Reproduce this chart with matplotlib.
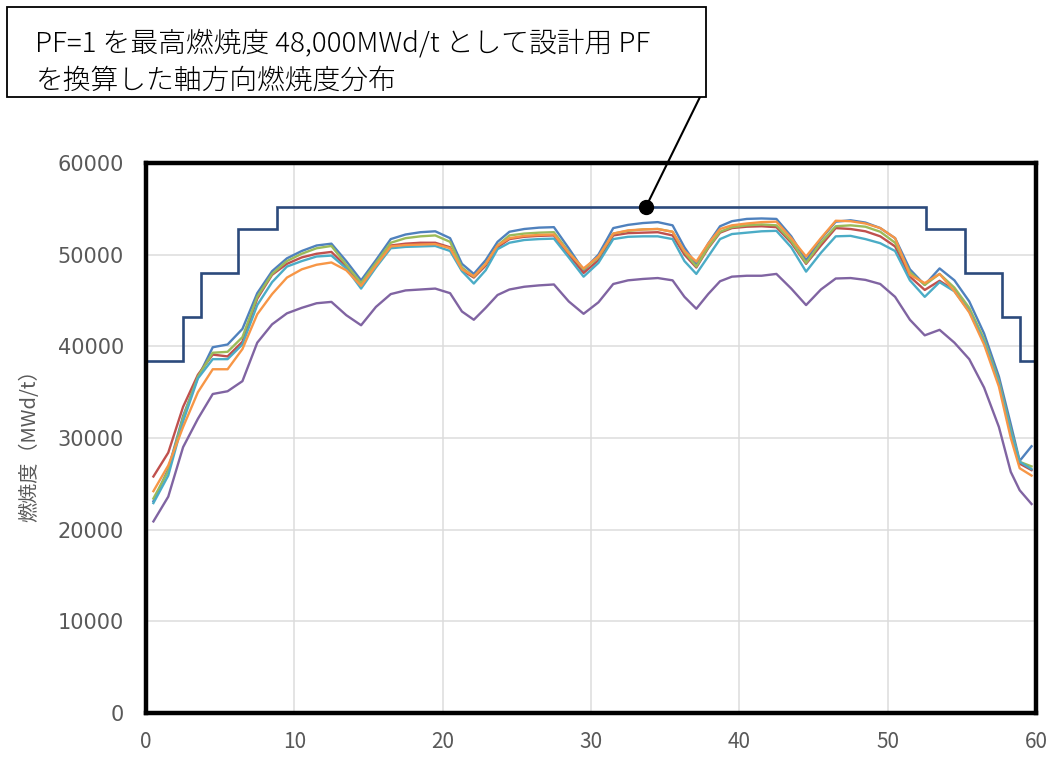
import matplotlib.pyplot as plt
from matplotlib.patches import Rectangle

plt.rcParams['font.family'] = ['Noto Sans CJK JP', 'DejaVu Sans']

# axial position of each read-off point
height = [0.5, 1.5, 2.5, 3.5, 4.5, 5.5, 6.5, 7.5, 8.5, 9.5,
          10.5, 11.5, 12.5, 13.5, 14.5, 15.5, 16.5, 17.5, 18.5, 19.5,
          20.5, 21.3, 22.1, 22.9, 23.7,
          24.5, 25.5, 26.5, 27.5, 28.5, 29.5, 30.5, 31.5, 32.5, 33.5, 34.5, 35.5,
          36.3, 37.1, 37.9, 38.7,
          39.5, 40.5, 41.5, 42.5, 43.5, 44.5, 45.5, 46.5, 47.5, 48.5,
          49.5, 50.5, 51.5, 52.5, 53.5, 54.5, 55.5, 56.5, 57.5,
          58.3, 58.9, 59.7]

blue = [23100, 26600, 32400, 36600, 39900, 40200, 41900, 45800, 48200, 49600,
        50400, 51000, 51200, 49300, 47200, 49400, 51700, 52200, 52450, 52550,
        51800, 49000, 47900, 49400, 51400,
        52500, 52800, 52950, 53000, 50700, 48300, 50000, 52900, 53250, 53450, 53550, 53200,
        50800, 48900, 51200, 53100,
        53650, 53900, 53950, 53900, 52000, 49400, 51700, 53600, 53750, 53500,
        52900, 51800, 48400, 46700, 48500, 47200, 44900, 41400, 36700,
        31500, 27500, 29100]

red = [25800, 28400, 33400, 36900, 39100, 38900, 40500, 45200, 47800, 49000,
       49700, 50100, 50300, 48700, 46700, 48900, 51000, 51200, 51300, 51300,
       50800, 48300, 47500, 48800, 50800,
       51700, 51950, 52050, 52100, 50000, 48000, 49400, 52100, 52350, 52400, 52450, 52100,
       50000, 48600, 50700, 52400,
       52900, 53050, 53100, 53000, 51300, 49000, 51000, 52900, 52800, 52550,
       52000, 50900, 47600, 46150, 47150, 46100, 43900, 40600, 36100,
       30600, 27200, 26500]

green = [23400, 26400, 32200, 36700, 39300, 39400, 41000, 45400, 47900, 49300,
         50100, 50700, 50950, 48900, 46900, 49100, 51300, 51800, 52000, 52100,
         51400, 48600, 47600, 49000, 51000,
         52100, 52300, 52400, 52450, 50300, 48400, 49700, 52300, 52600, 52750, 52800, 52500,
         50300, 48700, 50800, 52500,
         53000, 53200, 53300, 53200, 51500, 49100, 51300, 53100, 53200, 53050,
         52500, 51300, 48100, 46700, 47900, 46400, 44200, 40800, 36200,
         30900, 27400, 26900]

purple = [20900, 23600, 29000, 32100, 34800, 35100, 36200, 40400, 42400, 43600,
          44200, 44700, 44850, 43400, 42300, 44300, 45700, 46100, 46200, 46300,
          45800, 43800, 42900, 44200, 45600,
          46200, 46500, 46650, 46750, 44900, 43550, 44800, 46800, 47200, 47350, 47450, 47200,
          45400, 44100, 45700, 47100,
          47600, 47700, 47700, 47900, 46300, 44500, 46200, 47400, 47450, 47250,
          46800, 45400, 42900, 41200, 41800, 40400, 38600, 35500, 31200,
          26300, 24300, 22800]

cyan = [22900, 25900, 31800, 36500, 38600, 38600, 40200, 44500, 47000, 48700,
        49300, 49800, 49900, 48500, 46300, 48600, 50700, 50850, 50900, 50950,
        50400, 48200, 46850, 48300, 50600,
        51300, 51600, 51700, 51750, 49700, 47600, 49100, 51700, 51950, 52000, 52000, 51700,
        49300, 47900, 49800, 51700,
        52250, 52400, 52550, 52600, 50800, 48150, 50200, 52000, 52050, 51700,
        51250, 50400, 47200, 45400, 47000, 46000, 43800, 40500, 36000,
        30700, 27400, 26600]

orange = [24200, 27000, 31200, 35000, 37500, 37500, 39700, 43500, 45700, 47500,
          48400, 48900, 49150, 48300, 46600, 48800, 50900, 51050, 51100, 51150,
          50700, 48400, 47650, 49000, 51000,
          51800, 52050, 52150, 52200, 50200, 48500, 49800, 52300, 52650, 52750, 52800, 52500,
          50400, 49250, 51200, 52800,
          53200, 53400, 53550, 53600, 51800, 49800, 51800, 53700, 53650, 53400,
          52900, 51800, 47800, 46900, 47900, 46000, 43700, 40200, 35600,
          30000, 26700, 25900]

# design PF envelope (PF x 48,000 MWd/t)
step_edges = [0, 2.5, 3.7, 6.2, 8.8, 52.6, 55.2, 57.7, 58.9, 60]
step_values = [38400, 43200, 48000, 52800, 55200, 52800, 48000, 43200, 38400]

series = [(blue, '#4F81BD'), (red, '#C0504D'), (green, '#9BBB59'),
          (purple, '#8064A2'), (cyan, '#4BACC6'), (orange, '#F79646')]

note_x = 33.7
note_lines = ['PF=1 を最高燃焼度 48,000MWd/t として設計用 PF',
              'を換算した軸方向燃焼度分布']

fig = plt.figure(figsize=(10.54, 7.57), dpi=100)
ax = fig.add_axes([146 / 1054, 44 / 757, 890 / 1054, 550 / 757])

for vals, col in series:
    ax.plot(height, vals, color=col, lw=1.7, zorder=3, solid_joinstyle='round')

ax.stairs(step_values, step_edges, color='#2C4A7C', lw=1.9, zorder=4)

ax.set_xlim(0, 60)
ax.set_ylim(0, 60000)
ax.set_xticks(range(0, 61, 10))
ax.set_yticks(range(0, 60001, 10000))
ax.grid(True, color='#DCDCDC', lw=1.1, zorder=0)
ax.set_axisbelow(True)

for s in ax.spines.values():
    s.set_linewidth(3.2)
    s.set_color('black')
    s.set_zorder(6)

ax.tick_params(axis='y', length=0, pad=16, labelsize=15, labelcolor='#595959')
ax.tick_params(axis='x', length=0, pad=13, labelsize=15, labelcolor='#595959')
for lab in ax.get_yticklabels():
    lab.set_family('DejaVu Sans')

fig.text(30 / 1054, 1 - 441 / 757, '燃焼度（MWd/t）', rotation=90,
         ha='center', va='center', fontsize=14.5, color='#595959')

# callout box
fig.patches.append(Rectangle((7 / 1054, 1 - 97 / 757), 699 / 1054, 90 / 757,
                             transform=fig.transFigure, facecolor='white',
                             edgecolor='black', lw=1.3, zorder=5))
fig.text(35 / 1054, 1 - 43 / 757, note_lines[0], ha='left', va='center',
         fontsize=20, fontweight='light', color='black', zorder=6)
fig.text(35 / 1054, 1 - 81 / 757, note_lines[1], ha='left', va='center',
         fontsize=20, fontweight='light', color='black', zorder=6)

ax.annotate('', xy=(note_x, max(step_values)), xytext=(700, 757 - 97),
            textcoords='figure pixels',
            arrowprops=dict(arrowstyle='-', color='black', lw=1.5,
                            shrinkA=0, shrinkB=0), annotation_clip=False)
ax.plot([note_x], [max(step_values)], 'o', color='black', ms=10, zorder=7,
        clip_on=False)

fig.savefig('out.png', dpi=100)
